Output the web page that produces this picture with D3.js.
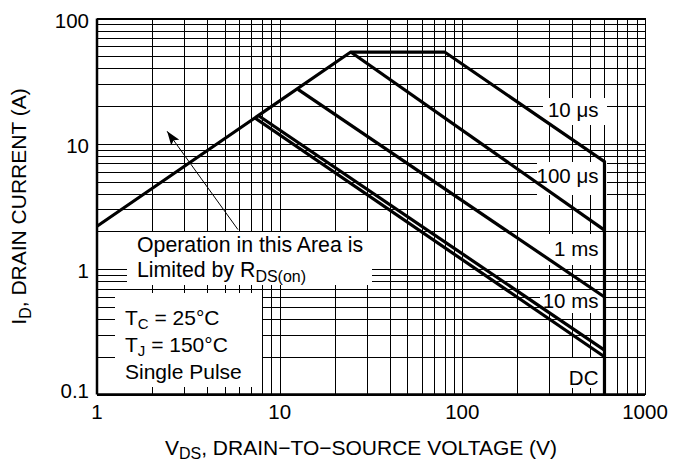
<!DOCTYPE html>
<html>
<head>
<meta charset="utf-8">
<script src="https://cdn.jsdelivr.net/npm/d3@7"></script>
<style>
  body { margin: 0; background: #fff; }
  text { font-family: "Liberation Sans", Arial, Helvetica, sans-serif; fill: #000; }
</style>
</head>
<body>
<div id="chart-area"></div>
<script>
// axis ticks
const xTicks = [1, 10, 100, 1000];
const yTicks = [0.1, 1, 10, 100];

// safe operating area curves (V in volts, I in amps)
const limitV = [1, 24.5, 80, 600, 600];      // RDS(on) limit + 10 us envelope
const limitI = [2.2, 54, 54, 7.2, 0.1];
const us100V = [24.5, 600];
const us100I = [54, 2.05];
const ms1V = [12.6, 600];
const ms1I = [27.2, 0.6];
const ms10V = [7.6, 600];
const ms10I = [16.9, 0.226];
const dcV = [7.3, 600];
const dcI = [16.1, 0.2];

const curveLabels = ["10 \u03bcs", "100 \u03bcs", "1 ms", "10 ms", "DC"];
const curveLabelI = [16.4, 4.87, 1.27, 0.49, 0.119];

const svg = d3.select("#chart-area")
    .append("svg")
    .attr("width", 675)
    .attr("height", 464);

const x = d3.scaleLog().domain([1, 1000]).range([97, 645]);
const y = d3.scaleLog().domain([0.1, 100]).range([394.5, 18.5]);
const plotH = y.range()[0] - y.range()[1];
const plotW = x.range()[1] - x.range()[0];

// minor grid: 1..9 in every decade
const gridX = d3.range(0, 3).flatMap(e => d3.range(1, 10).map(m => m * Math.pow(10, e))).concat([1000]);
const gridY = d3.range(-1, 2).flatMap(e => d3.range(1, 10).map(m => +(m * Math.pow(10, e)).toPrecision(3))).concat([100]);

const grid = svg.append("g").attr("shape-rendering", "crispEdges");
grid.append("g")
    .attr("transform", `translate(0,${y.range()[0]})`)
    .call(d3.axisBottom(x).tickValues(gridX).tickSize(-plotH).tickFormat(""));
grid.append("g")
    .attr("transform", `translate(${x.range()[0]},0)`)
    .call(d3.axisLeft(y).tickValues(gridY).tickSize(-plotW).tickFormat(""));
grid.selectAll(".domain").remove();
grid.selectAll("line").attr("stroke", "#000").attr("stroke-width", 1);

// white label boxes covering the grid
const boxes = [
    [543, 98, 64, 27],
    [537, 162, 70, 33],
    [548, 234, 56, 31],
    [540, 290, 64, 23],
    [557, 358, 47, 30],
    [127, 232, 245, 53],
    [115, 293, 147, 94]
];
svg.selectAll("rect.box")
    .data(boxes)
    .enter()
    .append("rect")
    .attr("class", "box")
    .attr("x", d => d[0])
    .attr("y", d => d[1])
    .attr("width", d => d[2])
    .attr("height", d => d[3])
    .attr("fill", "#fff");

// frame
svg.append("rect")
    .attr("x", x.range()[0]).attr("y", y.range()[1])
    .attr("width", plotW).attr("height", plotH)
    .attr("fill", "none").attr("stroke", "#000").attr("stroke-width", 1)
    .attr("shape-rendering", "crispEdges");
svg.append("line")
    .attr("x1", x.range()[0]).attr("x2", x.range()[0])
    .attr("y1", y.range()[1]).attr("y2", y.range()[0])
    .attr("stroke", "#000").attr("stroke-width", 2.5);
svg.append("line")
    .attr("x1", x.range()[0]).attr("x2", x.range()[1])
    .attr("y1", y.range()[0]).attr("y2", y.range()[0])
    .attr("stroke", "#000").attr("stroke-width", 2.5);

// curves
const line = d3.line().x(d => x(d[0])).y(d => y(d[1]));
const curves = [
    d3.zip(limitV, limitI),
    d3.zip(us100V, us100I),
    d3.zip(ms1V, ms1I),
    d3.zip(ms10V, ms10I),
    d3.zip(dcV, dcI)
];
svg.selectAll("path.soa")
    .data(curves)
    .enter()
    .append("path")
    .attr("class", "soa")
    .attr("d", line)
    .attr("fill", "none")
    .attr("stroke", "#000")
    .attr("stroke-width", 3.2)
    .attr("stroke-linejoin", "miter");

// curve labels
svg.selectAll("text.curve")
    .data(curveLabels)
    .enter()
    .append("text")
    .attr("class", "curve")
    .attr("x", x(600) - 6)
    .attr("y", (d, i) => y(curveLabelI[i]))
    .attr("text-anchor", "end")
    .attr("font-size", "20.5px")
    .text(d => d);

// tick labels
svg.selectAll("text.xtick")
    .data(xTicks)
    .enter()
    .append("text")
    .attr("class", "xtick")
    .attr("x", d => x(d))
    .attr("y", y.range()[0] + 24)
    .attr("text-anchor", "middle")
    .attr("font-size", "20.5px")
    .text(d => String(d));

svg.selectAll("text.ytick")
    .data(yTicks)
    .enter()
    .append("text")
    .attr("class", "ytick")
    .attr("x", x.range()[0] - 8)
    .attr("y", d => y(d) + (d === 0.1 ? 3 : 9))
    .attr("text-anchor", "end")
    .attr("font-size", "20.5px")
    .text(d => String(d));

// axis titles
const xt = svg.append("text")
    .attr("x", 361)
    .attr("y", 455)
    .attr("text-anchor", "middle")
    .attr("font-size", "21px");
xt.append("tspan").text("V");
xt.append("tspan").attr("font-size", "16px").attr("dy", 4).text("DS");
xt.append("tspan").attr("dy", -4).text(", DRAIN\u2212TO\u2212SOURCE VOLTAGE (V)");

const yt = svg.append("text")
    .attr("transform", `translate(26,${(y.range()[0] + y.range()[1]) / 2}) rotate(-90)`)
    .attr("text-anchor", "middle")
    .attr("font-size", "21px");
yt.append("tspan").text("I");
yt.append("tspan").attr("font-size", "16px").attr("dy", 5).text("D");
yt.append("tspan").attr("dy", -5).text(", DRAIN CURRENT (A)");

// annotation: RDS(on) limit
const op = svg.append("text").attr("font-size", "21.3px");
op.append("tspan").attr("x", 137).attr("y", 252).text("Operation in this Area is");
const op2 = svg.append("text").attr("font-size", "21.3px").attr("x", 137).attr("y", 277);
op2.append("tspan").text("Limited by R");
op2.append("tspan").attr("font-size", "16px").attr("dy", 5).text("DS(on)");

// conditions
const cond = svg.append("g").attr("font-size", "21px");
const tc = cond.append("text").attr("x", 125).attr("y", 325);
tc.append("tspan").text("T");
tc.append("tspan").attr("font-size", "15px").attr("dy", 4).text("C");
tc.append("tspan").attr("dy", -4).text(" = 25\u00b0C");
const tj = cond.append("text").attr("x", 125).attr("y", 352);
tj.append("tspan").text("T");
tj.append("tspan").attr("font-size", "15px").attr("dy", 4).text("J");
tj.append("tspan").attr("dy", -4).text(" = 150\u00b0C");
cond.append("text").attr("x", 125).attr("y", 379).text("Single Pulse");

// arrow
svg.append("defs").append("marker")
    .attr("id", "arrowhead")
    .attr("viewBox", "0 0 14 10")
    .attr("refX", 14).attr("refY", 5)
    .attr("markerWidth", 14).attr("markerHeight", 10)
    .attr("markerUnits", "userSpaceOnUse")
    .attr("orient", "auto")
    .append("path")
    .attr("d", "M0,0 L14,5 L0,10 L3,5 Z")
    .attr("fill", "#000");
svg.append("line")
    .attr("x1", x(5.91)).attr("y1", y(2.07))
    .attr("x2", x(2.42)).attr("y2", y(12.6))
    .attr("stroke", "#000")
    .attr("stroke-width", 1)
    .attr("marker-end", "url(#arrowhead)");
</script>
</body>
</html>
